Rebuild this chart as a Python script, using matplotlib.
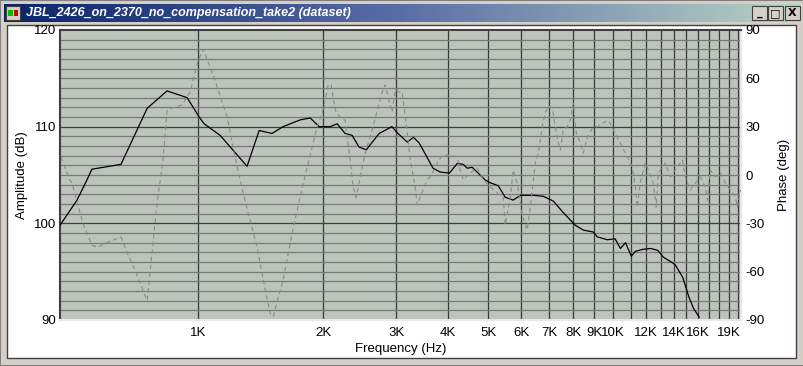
import numpy as np
import matplotlib
matplotlib.use("Agg")
import matplotlib.pyplot as plt
from matplotlib.patches import Rectangle
from matplotlib.colors import LinearSegmentedColormap

plt.rcParams['font.family'] = ['Liberation Sans', 'DejaVu Sans']
plt.rcParams['axes.unicode_minus'] = False

# amplitude response (Hz, dB)
amp_freq = [465, 511, 540, 555, 652, 754, 842, 941, 1006, 1034, 1130, 1312, 1403, 1507,
            1602, 1761, 1862, 1957, 2080, 2162, 2260, 2350, 2440, 2540, 2730, 2930, 3030,
            3190, 3300, 3410, 3680, 3830, 4030, 4210, 4350, 4450, 4570, 4700, 4910, 5050,
            5280, 5490, 5740, 5970, 6420, 6780, 7170, 7580, 8100, 8470, 8950, 9150, 9670,
            10100, 10400, 10700, 11050, 11300, 11750, 12300, 12800, 13200, 13900, 14100,
            14700, 15200, 15600, 16100]
amp_db = [99.8, 102.4, 104.5, 105.6, 106.1, 111.9, 113.7, 113.0, 111.0, 110.3, 109.1, 105.9,
          109.6, 109.3, 110.0, 110.7, 110.9, 110.0, 110.0, 110.3, 109.3, 109.1, 107.9, 107.6,
          109.3, 110.0, 109.3, 108.4, 108.9, 108.3, 105.7, 105.3, 105.2, 106.2, 106.1, 105.7,
          105.8, 105.3, 104.5, 104.2, 103.9, 102.7, 102.4, 102.9, 102.9, 102.8, 102.3, 101.1,
          99.8, 99.3, 99.1, 98.6, 98.3, 98.4, 97.4, 98.0, 96.6, 97.1, 97.3, 97.4, 97.2, 96.5,
          95.9, 95.7, 94.4, 92.4, 91.2, 90.3]

# phase response (Hz, deg)
ph_freq = [468, 491, 497, 528, 555, 571, 603, 631, 652, 674, 705, 725, 754, 779, 797, 823,
           842, 866, 915, 957, 1000, 1028, 1069, 1117, 1175, 1214, 1262, 1320, 1387, 1450,
           1491, 1516, 1603, 1685, 1761, 1841, 1935, 1990, 2023, 2057, 2092, 2115, 2150,
           2223, 2261, 2286, 2324, 2363, 2403, 2457, 2526, 2626, 2700, 2776, 2822, 2870,
           2934, 2984, 3034, 3102, 3189, 3243, 3334, 3371, 3427, 3563, 3622, 3766, 3873,
           4048, 4208, 4279, 4351, 4523, 4703, 4862, 5055, 5255, 5432, 5493, 5647, 5741,
           5870, 6035, 6204, 6310, 6486, 6596, 6744, 6857, 6972, 7129, 7248, 7371, 7453,
           7578, 7748, 7878, 8010, 8144, 8327, 8467, 8657, 8901, 9150, 9408, 9672, 9835,
           10000, 10220, 10510, 10810, 11110, 11300, 11420, 11610, 11940, 12140, 12480,
           12690, 12830, 13340, 13720, 14260, 14670, 14910, 15330, 15760, 16210, 16660,
           16850, 17130, 17610, 18110, 18620, 19140, 19680, 19890, 20230]
ph_deg = [11, -3, -5, -30, -43.5, -45, -42, -40, -38.5, -48, -59, -67, -78, -42, -17, 9,
          40, 41.6, 43.5, 51.5, 71, 78, 67, 53, 36, 17, -3, -23.6, -44.7, -71,
          -85.7, -88, -65, -36, -13.6, 7.4, 29.8, 38.5, 46.5, 56, 56, 48, 38.5,
          34.8, 34, 23.6, 9.3, -7.5, -14, -1.2, 13.6, 28, 40, 51.5, 56, 48,
          39, 52.8, 51.5, 51.5, 26, 9.3, -7.5, -18.6, -13.6, -3, -1.2, 7.4, 12.4,
          12.4, 11.2, 3.1, -3, 1.2, 4.3, -3, -7.5, -11, -14, -31, -13.6, 3,
          -5, -25, -34, -20, 7.4, 13.6, 30, 38.5, 43, 41.6, 30, 20, 15.5,
          28, 30, 34, 44.7, 26, 20, 13.6, 23.6, 29, 30, 32, 34, 32,
          28, 23.6, 17.4, 11.2, 5, -7.5, -20, -5, 7.4, 3, -5,
          -20, 1.2, 7.4, -1.2, 5, 9.3, -1.2, -9.3, -5, -1.2, -7.5,
          -15.6, 3, -1.2, 1.2, -5, -9.3, -13.6, -20, -9.3]

x_grid = [1000, 2000, 3000, 4000, 5000, 6000, 7000, 8000, 9000, 10000,
          11000, 12000, 13000, 14000, 15000, 16000, 17000, 18000, 19000, 20000]
x_ticks = [1000, 2000, 3000, 4000, 5000, 6000, 7000, 8000, 9000, 10000,
           12000, 14000, 16000, 19000]
x_labels = ["1K", "2K", "3K", "4K", "5K", "6K", "7K", "8K", "9K", "10K",
            "12K", "14K", "16K", "19K"]
amp_ticks = [90, 100, 110, 120]
phase_ticks = [-90, -60, -30, 0, 30, 60, 90]

title = "JBL_2426_on_2370_no_compensation_take2 (dataset)"

W, H = 804, 366
fig = plt.figure(figsize=(W / 100, H / 100), dpi=100)
fig.patch.set_facecolor("#d4d0c8")

def px(x, y, w, h):
    # rectangle in pixel coords (top-left origin) -> figure fraction
    return (x / W, 1 - (y + h) / H, w / W, h / H)

# window chrome (kept below the axes)
fig.patches.append(Rectangle((0, 0), 1, 1, transform=fig.transFigure, zorder=-3,
                             facecolor="#d4d0c8", edgecolor="#808080", lw=1.5))
x0, y0, w0, h0 = px(7, 25, 789, 333)
fig.patches.append(Rectangle((x0, y0), w0, h0, transform=fig.transFigure, zorder=-2,
                             facecolor="white", edgecolor="#404040", lw=1))

# title bar gradient
tb = fig.add_axes(px(4, 4, 796, 18))
cmap = LinearSegmentedColormap.from_list("tb", ["#0a246a", "#5a6ea6", "#b8d4c4"])
tb.imshow(np.linspace(0, 1, 256).reshape(1, -1), aspect="auto", cmap=cmap,
          extent=[0, 1, 0, 1])
tb.set_axis_off()
tb.text(22 / 796, 0.48, title, color="white", fontsize=9, fontweight="bold",
        fontstyle="italic", va="center", ha="left", transform=tb.transAxes)

# icon
ix, iy, iw, ih = px(6, 6, 14, 14)
fig.patches.append(Rectangle((ix, iy), iw, ih, transform=fig.transFigure,
                             facecolor="#d4d0c8", edgecolor="#404040", lw=0.8))
ix, iy, iw, ih = px(8, 10, 5, 6)
fig.patches.append(Rectangle((ix, iy), iw, ih, transform=fig.transFigure,
                             facecolor="#00c000", edgecolor="none"))
ix, iy, iw, ih = px(14, 10, 4, 6)
fig.patches.append(Rectangle((ix, iy), iw, ih, transform=fig.transFigure,
                             facecolor="#d00000", edgecolor="none"))

# caption buttons
for bx, glyph in [(752, "_"), (768, "□"), (785, "X")]:
    rx, ry, rw, rh = px(bx, 6, 15, 14)
    fig.patches.append(Rectangle((rx, ry), rw, rh, transform=fig.transFigure,
                                 facecolor="#d4d0c8", edgecolor="#404040", lw=0.8))
    fig.text(rx + rw / 2, ry + rh / 2, glyph, fontsize=8, fontweight="bold",
             ha="center", va="center", family=["DejaVu Sans"])

# plot area
ax = fig.add_axes(px(60, 30, 681, 290))
ax.set_facecolor("#bcc4bc")
ax.set_xscale("log")
ax.set_xlim(465, 20300)
ax.set_ylim(90, 120)

for v in x_grid:
    ax.axvline(v, color="#383838", lw=0.9, zorder=1)
for v in range(91, 120):
    c = "#404040" if v in (100, 110) else "#7a7a7a"
    ax.axhline(v, color=c, lw=0.9, zorder=1)

ax.plot(amp_freq, amp_db, color="black", lw=0.9, zorder=4)

ax.set_xticks(x_ticks)
ax.set_xticklabels(x_labels)
ax.xaxis.set_minor_locator(matplotlib.ticker.NullLocator())
ax.set_yticks(amp_ticks)
ax.tick_params(axis="both", length=0, labelsize=9.5, pad=3)
ax.tick_params(axis="x", pad=5)
ax.set_xlabel("Frequency (Hz)", fontsize=9.5, labelpad=3)
ax.set_ylabel("Amplitude (dB)", fontsize=9.5, labelpad=4)

for s in ["left", "top"]:
    ax.spines[s].set_color("#404040")
for s in ["right", "bottom"]:
    ax.spines[s].set_color("#e8e8e8")
for s in ax.spines.values():
    s.set_linewidth(1.5)

ax2 = ax.twinx()
ax2.set_ylim(-90, 90)
ax2.plot(ph_freq, ph_deg, color="#8a8a8a", lw=0.8, ls=(0, (4, 3)), zorder=3)
ax2.set_yticks(phase_ticks)
ax2.tick_params(axis="y", length=0, labelsize=9.5, pad=3)
ax2.set_ylabel("Phase (deg)", fontsize=9.5, labelpad=10, rotation=90)
for s in ax2.spines.values():
    s.set_visible(False)

fig.savefig("out.png", dpi=100, facecolor=fig.get_facecolor())
